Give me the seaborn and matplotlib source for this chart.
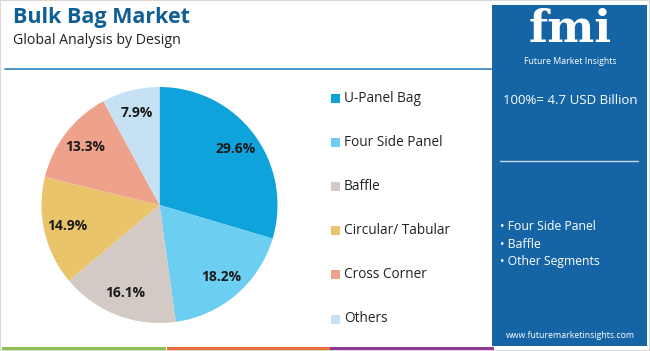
import matplotlib
matplotlib.use("Agg")
import matplotlib.pyplot as plt
from matplotlib.patches import Rectangle
import seaborn as sns

# data
segments = ["U-Panel Bag", "Four Side Panel", "Baffle", "Circular/ Tabular", "Cross Corner", "Others"]
shares = [29.6, 18.2, 16.1, 14.9, 13.3, 7.9]
seg_colors = ["#0fa3db", "#6ccff2", "#d3cac6", "#eac46b", "#eea28c", "#c6e1f4"]
title = "Bulk Bag Market"
subtitle = "Global Analysis by Design"
total_text = "100%= 4.7 USD Billion"
key_segments = ["Four Side Panel", "Baffle", "Other Segments"]

sns.set_style("white")
plt.rcParams['font.family'] = ['Open Sans', 'DejaVu Sans']

W, H = 650, 351
fig = plt.figure(figsize=(W / 100, H / 100), dpi=100)
fig.patch.set_facecolor("white")


def fx(px):
    return px / W


def fy(py):
    return 1 - py / H


# frame, header line, bottom stripes, side panel
fig.patches.append(Rectangle((0, 0), 1, 1, transform=fig.transFigure, fill=False,
                             edgecolor="#d9d9d9", linewidth=1.5))
fig.add_artist(plt.Line2D([fx(5), fx(492)], [fy(69), fy(69)], color="#2e86c1", linewidth=1.2,
                          transform=fig.transFigure))
for x0, c in zip([2, 167, 330], ["#8cc152", "#e8703a", "#8e3a8e"]):
    fig.patches.append(Rectangle((fx(x0), fy(350)), fx(164), 3 / H, transform=fig.transFigure,
                                 color=c, linewidth=0))
fig.patches.append(Rectangle((fx(492), fy(346)), fx(155), 341 / H, transform=fig.transFigure,
                             color="#1565a6", linewidth=0))

fig.text(fx(13), fy(18), title, fontsize=15.5, fontweight="bold", color="#0f5e96", va="center")
fig.text(fx(13), fy(40), subtitle, fontsize=10.2, color="#222222", va="center")

# side panel text
fig.text(fx(570), fy(30), "fmi", fontsize=32, fontweight="bold", color="white", family="DejaVu Serif",
         ha="center", va="center")
fig.text(fx(570), fy(61), "Future Market Insights", fontsize=6.3, color="white", ha="center", va="center")
fig.text(fx(570), fy(101), total_text, fontsize=9.5, color="white", ha="center", va="center")
fig.add_artist(plt.Line2D([fx(500), fx(638)], [fy(161), fy(161)], color="#c9d9ea", linewidth=1,
                          transform=fig.transFigure))
for i, s in enumerate(key_segments):
    fig.text(fx(500), fy(227 + 17.5 * i), "\u2022 " + s, fontsize=8.8, color="white", va="center")
fig.text(fx(570), fy(336), "www.futuremarketinsights.com", fontsize=6.3, color="white",
         ha="center", va="center")

# pie
ax = fig.add_axes([fx(41), fy(323), fx(237), 236 / H])
wedges, _, autotexts = ax.pie(shares, colors=seg_colors, startangle=90, counterclock=False,
                              autopct="%.1f%%", pctdistance=0.8,
                              wedgeprops=dict(linewidth=0))
for t in autotexts:
    t.set_fontsize(10)
    t.set_fontweight("bold")
    t.set_color("#1a1a1a")
ax.set_xlim(-1, 1)
ax.set_ylim(-1, 1)
ax.set_aspect("equal")
ax.axis("off")

# legend
for i, (s, c) in enumerate(zip(segments, seg_colors)):
    y = 98 + 44.2 * i
    fig.patches.append(Rectangle((fx(331), fy(y + 4.5)), fx(9), 9 / H, transform=fig.transFigure,
                                 color=c, linewidth=0))
    fig.text(fx(344), fy(y), s, fontsize=9.8, color="#222222", va="center")

fig.savefig("out.png", dpi=100, facecolor="white")
